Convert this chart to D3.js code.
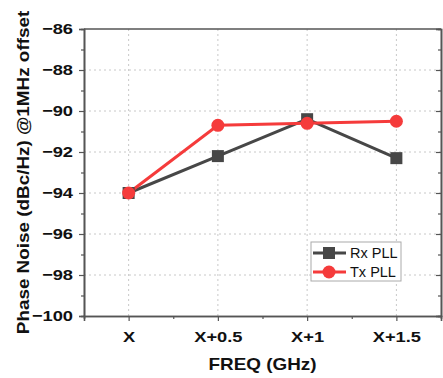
<!DOCTYPE html>
<html>
<head>
<meta charset="utf-8">
<script src="https://cdn.jsdelivr.net/npm/d3@7"></script>
<style>
	body { margin: 0; background: #fff; }
	text { font-family: 'Liberation Sans', Arial, sans-serif; }
</style>
</head>
<body>
<div id="chart"></div>
<script>
const categories = ['X', 'X+0.5', 'X+1', 'X+1.5'];
const rxValues = [-94, -92.2, -90.4, -92.3];
const txValues = [-94, -90.7, -90.6, -90.5];
const yTicks = [-100, -98, -96, -94, -92, -90, -88, -86];

const COLOR_RX = '#474747';
const COLOR_TX = '#f53b3b';
const COLOR_AXIS = '#555';
const STRETCH = 1.18; // the source text is a bit wider than plain Arial bold

const W = 443;
const H = 378;
const m = { top: 29, right: 2, bottom: 62, left: 84 };
const chartW = W - m.left - m.right;
const chartH = H - m.top - m.bottom;

const svg = d3
	.select('#chart')
	.append('svg')
	.attr('width', W)
	.attr('height', H);

const g = svg.append('g').attr('transform', 'translate(' + m.left + ',' + m.top + ')');

const x = d3.scaleLinear().domain([-0.5, categories.length - 0.5]).range([0, chartW]);
const y = d3.scaleLinear().domain([-100, -86]).range([chartH, 0]);

// widen text horizontally, keeping its anchor where d3 put it
const stretch = (sel) => {
	sel.each(function () {
		const t = d3.select(this);
		const tx = +t.attr('x') || 0;
		t.attr('x', tx / STRETCH).attr('transform', 'scale(' + STRETCH + ',1)');
	});
};

// grid
g.append('g')
	.selectAll('line')
	.data(yTicks.slice(1, -1))
	.enter()
	.append('line')
	.attr('x1', 0)
	.attr('x2', chartW)
	.attr('y1', (d) => y(d))
	.attr('y2', (d) => y(d))
	.attr('stroke', '#c8c8c8')
	.attr('stroke-dasharray', '2,3');

g.append('g')
	.selectAll('line')
	.data(categories.map((c, i) => i))
	.enter()
	.append('line')
	.attr('x1', (d) => x(d))
	.attr('x2', (d) => x(d))
	.attr('y1', 0)
	.attr('y2', chartH)
	.attr('stroke', '#c8c8c8')
	.attr('stroke-dasharray', '2,3');

// axes
const minorY = d3.range(-99, -86, 2);
const yAxis = d3.axisLeft(y).tickValues(yTicks).tickSize(5).tickPadding(6).tickFormat(d3.format('d'));
const yMinor = d3.axisLeft(y).tickValues(minorY).tickSize(3).tickFormat('');
const yRight = d3.axisRight(y).tickValues(yTicks).tickSize(-5).tickFormat('');
const yRightMinor = d3.axisRight(y).tickValues(minorY).tickSize(-3).tickFormat('');

const xAxis = d3
	.axisBottom(x)
	.tickValues(categories.map((c, i) => i))
	.tickSize(5)
	.tickPadding(10)
	.tickFormat((d) => categories[d]);
const xMinor = d3.axisBottom(x).tickValues([0.5, 1.5, 2.5]).tickSize(3).tickFormat('');

const styleAxis = (sel) => {
	sel.selectAll('.domain').attr('stroke', COLOR_AXIS).attr('stroke-width', 1.6);
	sel.selectAll('.tick line').attr('stroke', COLOR_AXIS).attr('stroke-width', 1.2);
	sel.selectAll('text')
		.attr('fill', '#111')
		.style('font-size', '15.5px')
		.style('font-weight', 'bold')
		.call(stretch);
};

g.append('g').call(yAxis).call(styleAxis);
g.append('g').call(yMinor).call(styleAxis);
g.append('g').attr('transform', 'translate(' + chartW + ',0)').call(yRight).call(styleAxis);
g.append('g').attr('transform', 'translate(' + chartW + ',0)').call(yRightMinor).call(styleAxis);
g.append('g').attr('transform', 'translate(0,' + chartH + ')').call(xAxis).call(styleAxis);
g.append('g').attr('transform', 'translate(0,' + chartH + ')').call(xMinor).call(styleAxis);
g.append('line')
	.attr('x1', 0)
	.attr('x2', chartW)
	.attr('y1', 0)
	.attr('y2', 0)
	.attr('stroke', COLOR_AXIS)
	.attr('stroke-width', 1.6);

// lines
const line = d3
	.line()
	.x((d, i) => x(i))
	.y((d) => y(d));

g.append('path')
	.datum(rxValues)
	.attr('fill', 'none')
	.attr('stroke', COLOR_RX)
	.attr('stroke-width', 3)
	.attr('d', line);

g.append('path')
	.datum(txValues)
	.attr('fill', 'none')
	.attr('stroke', COLOR_TX)
	.attr('stroke-width', 3)
	.attr('d', line);

const sq = 12;
g.selectAll('.rx')
	.data(rxValues)
	.enter()
	.append('rect')
	.attr('class', 'rx')
	.attr('x', (d, i) => x(i) - sq / 2)
	.attr('y', (d) => y(d) - sq / 2)
	.attr('width', sq)
	.attr('height', sq)
	.attr('fill', COLOR_RX);

g.selectAll('.tx')
	.data(txValues)
	.enter()
	.append('circle')
	.attr('class', 'tx')
	.attr('cx', (d, i) => x(i))
	.attr('cy', (d) => y(d))
	.attr('r', 6.5)
	.attr('fill', COLOR_TX);

// axis titles
svg.append('text')
	.attr('transform', 'translate(23,' + (m.top + chartH / 2 + 0) + ') rotate(-90) scale(' + STRETCH + ',1)')
	.attr('text-anchor', 'middle')
	.attr('dy', '0.35em')
	.style('font-size', '16px')
	.style('font-weight', 'bold')
	.attr('fill', '#111')
	.text('Phase Noise (dBc/Hz) @1MHz offset');

svg.append('text')
	.attr('transform', 'translate(' + (m.left + chartW / 2) + ',370) scale(' + STRETCH + ',1)')
	.attr('text-anchor', 'middle')
	.style('font-size', '16px')
	.style('font-weight', 'bold')
	.attr('fill', '#111')
	.text('FREQ (GHz)');

// legend
const legend = svg.append('g').attr('transform', 'translate(311,242)');
legend.append('rect')
	.attr('width', 90)
	.attr('height', 39)
	.attr('fill', '#fff')
	.attr('stroke', '#aaa')
	.attr('stroke-width', 1);

const legendItems = [
	{ name: 'Rx PLL', color: COLOR_RX, shape: 'square' },
	{ name: 'Tx PLL', color: COLOR_TX, shape: 'circle' }
];

legendItems.forEach((it, i) => {
	const ly = 11 + i * 19;
	const row = legend.append('g').attr('transform', 'translate(0,' + ly + ')');
	row.append('line')
		.attr('x1', 2)
		.attr('x2', 35)
		.attr('stroke', it.color)
		.attr('stroke-width', 3);
	if (it.shape === 'square') {
		row.append('rect').attr('x', 12).attr('y', -6).attr('width', 12).attr('height', 12).attr('fill', it.color);
	} else {
		row.append('circle').attr('cx', 18).attr('r', 6.5).attr('fill', it.color);
	}
	row.append('text')
		.attr('x', 39)
		.attr('dy', '0.35em')
		.style('font-size', '14.5px')
		.attr('fill', '#111')
		.text(it.name);
});
</script>
</body>
</html>
